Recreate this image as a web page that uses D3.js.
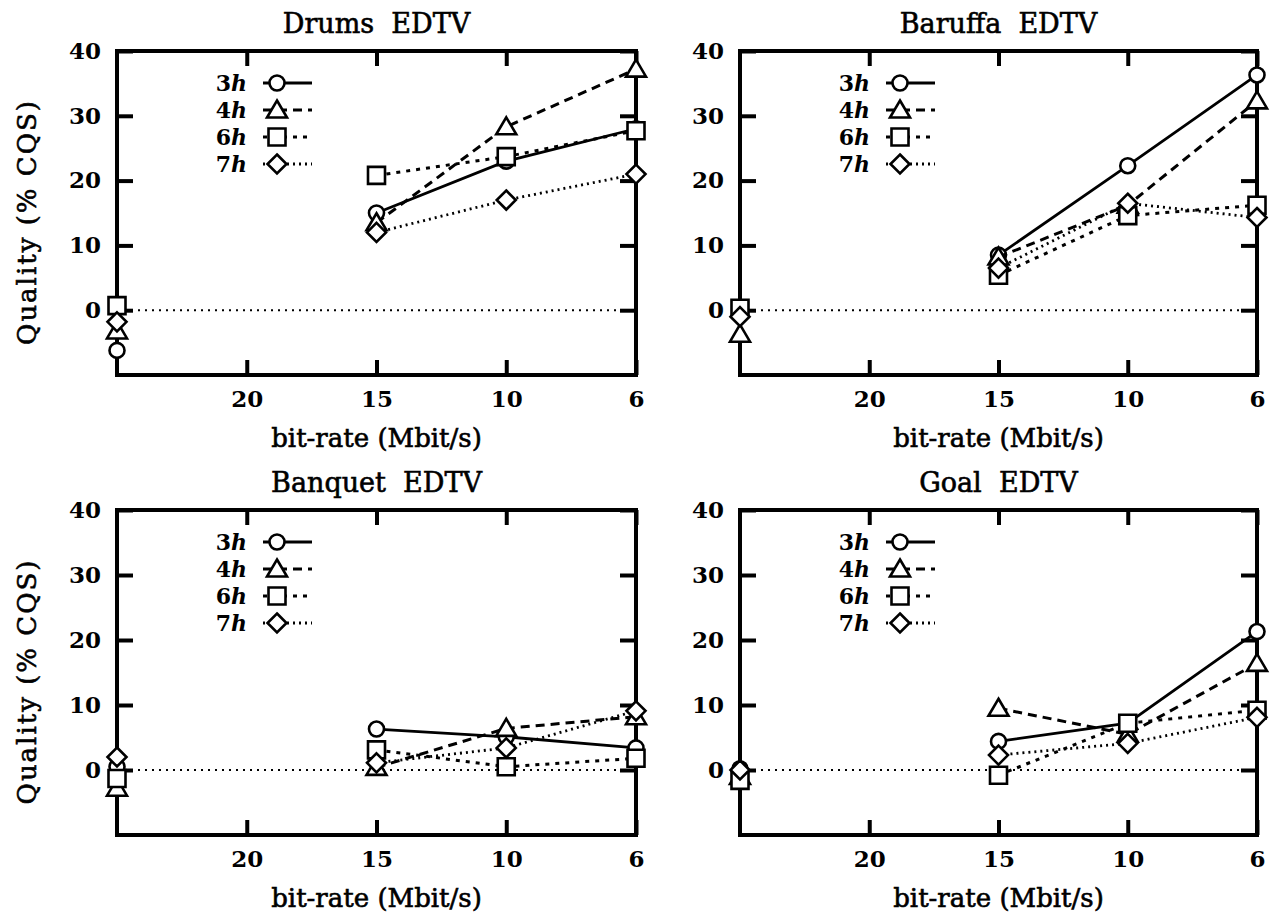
<!DOCTYPE html>
<html>
<head>
<meta charset="utf-8">
<script src="https://cdn.jsdelivr.net/npm/d3@7"></script>
<style>
  html, body { margin: 0; padding: 0; background: #fff; }
  svg { display: block; }
</style>
</head>
<body>
<script>
// Bit-rate categories along the x axis (first position is the unlabelled reference)
const categories = ["ref", "20", "15", "10", "6"];
const tickLabels = ["", "20", "15", "10", "6"];
const xTickValues = ["20", "15", "10", "6"];
const yTickValues = [40, 30, 20, 10, 0];
const seriesNames = ["3h", "4h", "6h", "7h"];
const panelTitles = ["Drums  EDTV", "Baruffa  EDTV", "Banquet  EDTV", "Goal  EDTV"];
const xAxisTitle = "bit-rate (Mbit/s)";
const yAxisTitle = "Quality (% CQS)";

// Quality (% CQS) per series, one value per category (null = not measured)
const drums3h = [-6.2, null, 15.0, 23.0, 28.0];
const drums4h = [-3.2, null, 13.5, 28.3, 37.2];
const drums6h = [0.7, null, 20.8, 23.7, 27.7];
const drums7h = [-1.8, null, 12.0, 17.0, 21.0];

const baruffa3h = [-0.3, null, 8.5, 22.3, 36.3];
const baruffa4h = [-3.7, null, 8.2, 16.2, 32.3];
const baruffa6h = [0.3, null, 5.4, 14.6, 16.2];
const baruffa7h = [-1.0, null, 6.5, 16.5, 14.3];

const banquet3h = [0.5, null, 6.3, 5.1, 3.4];
const banquet4h = [-2.8, null, 0.4, 6.4, 8.2];
const banquet6h = [-1.3, null, 3.1, 0.5, 1.8];
const banquet7h = [2.0, null, 1.1, 3.4, 9.1];

const goal3h = [0.2, null, 4.4, 7.2, 21.3];
const goal4h = [-1.0, null, 9.5, 5.5, 16.4];
const goal6h = [-1.6, null, -0.8, 7.2, 9.2];
const goal7h = [0.0, null, 2.3, 4.1, 8.1];

const panelData = [
  [drums3h, drums4h, drums6h, drums7h],
  [baruffa3h, baruffa4h, baruffa6h, baruffa7h],
  [banquet3h, banquet4h, banquet6h, banquet7h],
  [goal3h, goal4h, goal6h, goal7h]
];

// ---- layout ----
const W = 1273, H = 923;
const frames = [
  { left: 117, right: 636, top: 51, bottom: 375, yTitle: true },
  { left: 740, right: 1257, top: 51, bottom: 375, yTitle: false },
  { left: 117, right: 636, top: 510, bottom: 835, yTitle: true },
  { left: 740, right: 1257, top: 510, bottom: 835, yTitle: false }
];
const FONT = "'DejaVu Serif', 'Liberation Serif', serif";

// line style per series: solid, dashed, short-dash, dotted
const lineStyles = [
  { dash: null, width: 2.8 },
  { dash: "9,6", width: 3 },
  { dash: "4,6", width: 3 },
  { dash: "2,4", width: 2.8 }
];

// marker shapes (custom so the diamond is a true rotated square)
function markerPath(kind) {
  const p = d3.path();
  if (kind === 0) { p.arc(0, 0, 7.5, 0, 2 * Math.PI); p.closePath(); }
  else if (kind === 1) { p.moveTo(0, -9.5); p.lineTo(10, 7.5); p.lineTo(-10, 7.5); p.closePath(); }
  else if (kind === 2) { p.rect(-8.5, -8.5, 17, 17); }
  else { p.moveTo(0, -9.5); p.lineTo(9.5, 0); p.lineTo(0, 9.5); p.lineTo(-9.5, 0); p.closePath(); }
  return p.toString();
}

const svg = d3.select("body").append("svg")
  .attr("width", W).attr("height", H)
  .style("background", "#fff");

frames.forEach((f, pi) => {
  const g = svg.append("g");
  const x = d3.scalePoint().domain(categories).range([f.left, f.right]);
  const y = d3.scaleLinear().domain([-10, 40]).range([f.bottom, f.top]);
  const labelOf = d => tickLabels[categories.indexOf(d)];

  // zero reference line
  g.append("line")
    .attr("x1", f.left).attr("x2", f.right)
    .attr("y1", y(0)).attr("y2", y(0))
    .attr("stroke", "#000").attr("stroke-width", 2)
    .attr("stroke-dasharray", "2,5");

  // axes with inward ticks on all four sides
  const styleAxis = sel => {
    sel.select(".domain").remove();
    sel.selectAll(".tick line").attr("stroke", "#000").attr("stroke-width", 4);
    sel.selectAll(".tick text")
      .attr("fill", "#000")
      .attr("font-family", FONT)
      .attr("font-weight", "bold")
      .attr("font-size", 23);
  };
  g.append("g").attr("transform", `translate(0,${f.bottom})`)
    .call(d3.axisBottom(x).tickValues(xTickValues).tickFormat(labelOf)
      .tickSizeInner(-15).tickSizeOuter(0).tickPadding(16))
    .call(styleAxis);
  g.append("g").attr("transform", `translate(0,${f.top})`)
    .call(d3.axisTop(x).tickValues(xTickValues).tickFormat("")
      .tickSizeInner(-15).tickSizeOuter(0))
    .call(styleAxis);
  g.append("g").attr("transform", `translate(${f.left},0)`)
    .call(d3.axisLeft(y).tickValues(yTickValues).tickFormat(d3.format("d"))
      .tickSizeInner(-16).tickSizeOuter(0).tickPadding(16))
    .call(styleAxis);
  g.append("g").attr("transform", `translate(${f.right},0)`)
    .call(d3.axisRight(y).tickValues(yTickValues).tickFormat("")
      .tickSizeInner(-16).tickSizeOuter(0))
    .call(styleAxis);

  // frame
  g.append("rect")
    .attr("x", f.left).attr("y", f.top)
    .attr("width", f.right - f.left).attr("height", f.bottom - f.top)
    .attr("fill", "none").attr("stroke", "#000").attr("stroke-width", 4);

  // title and axis titles
  g.append("text")
    .attr("x", (f.left + f.right) / 2).attr("y", f.top - 18)
    .attr("text-anchor", "middle")
    .style("white-space", "pre")
    .attr("font-family", FONT).attr("font-size", 27)
    .attr("stroke", "#000").attr("stroke-width", 0.6)
    .text(panelTitles[pi]);
  g.append("text")
    .attr("x", (f.left + f.right) / 2).attr("y", f.bottom + 72)
    .attr("text-anchor", "middle")
    .attr("font-family", FONT).attr("font-size", 26)
    .attr("stroke", "#000").attr("stroke-width", 0.6)
    .text(xAxisTitle);
  if (f.yTitle) {
    g.append("text")
      .attr("transform", `translate(27,${(f.top + f.bottom) / 2 + 9}) rotate(-90)`)
      .attr("text-anchor", "middle")
      .attr("dominant-baseline", "central")
      .attr("font-family", FONT).attr("font-size", 26)
      .attr("letter-spacing", 2)
      .attr("stroke", "#000").attr("stroke-width", 0.6)
      .text(yAxisTitle);
  }

  // series: line then markers
  const line = d3.line()
    .defined(d => d.v != null)
    .x(d => x(d.c)).y(d => y(d.v));
  panelData[pi].forEach((vals, si) => {
    const pts = vals.map((v, i) => ({ c: categories[i], v }));
    const st = lineStyles[si];
    // isolated reference point is not joined to the measured curve
    g.append("path")
      .datum(pts.slice(2))
      .attr("d", line)
      .attr("fill", "none").attr("stroke", "#000")
      .attr("stroke-width", st.width)
      .attr("stroke-dasharray", st.dash);
    g.selectAll(null)
      .data(pts.filter(d => d.v != null))
      .join("path")
      .attr("transform", d => `translate(${x(d.c)},${y(d.v)})`)
      .attr("d", markerPath(si))
      .attr("fill", "#fff").attr("stroke", "#000").attr("stroke-width", 2.6);
  });

  // legend
  seriesNames.forEach((name, si) => {
    const ly = f.top + 32 + si * 27;
    const t = g.append("text")
      .attr("x", f.left + 130).attr("y", ly + 8)
      .attr("text-anchor", "end")
      .attr("font-family", FONT).attr("font-weight", "bold").attr("font-size", 22);
    t.append("tspan").text(name.slice(0, -1));
    t.append("tspan").attr("font-style", "italic").text(name.slice(-1));
    const st = lineStyles[si];
    g.append("line")
      .attr("x1", f.left + 146).attr("x2", f.left + 195)
      .attr("y1", ly).attr("y2", ly)
      .attr("stroke", "#000").attr("stroke-width", st.width)
      .attr("stroke-dasharray", st.dash);
    g.append("path")
      .attr("transform", `translate(${f.left + 160},${ly})`)
      .attr("d", markerPath(si))
      .attr("fill", "#fff").attr("stroke", "#000").attr("stroke-width", 2.6);
  });
});
</script>
</body>
</html>
